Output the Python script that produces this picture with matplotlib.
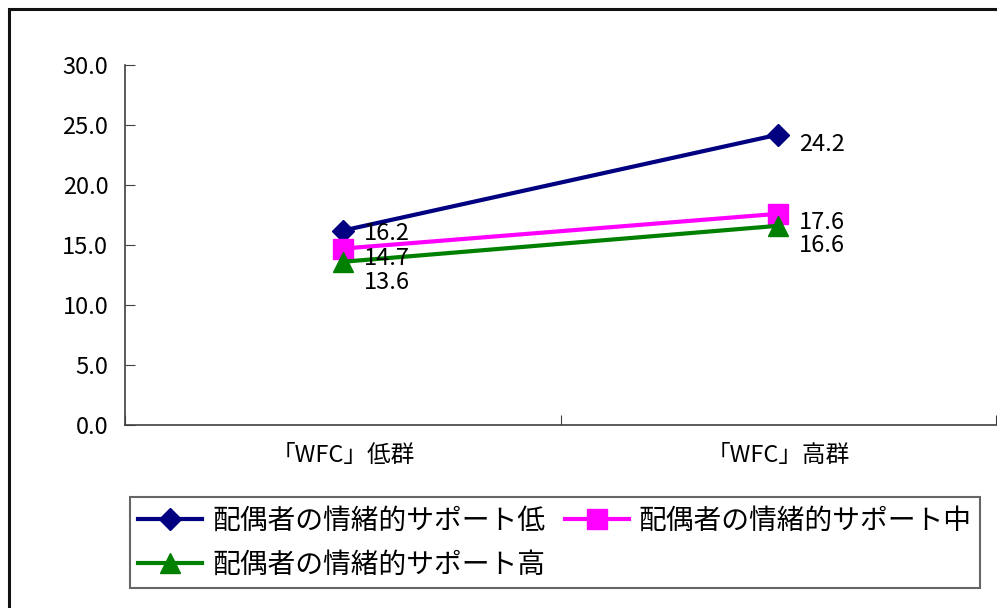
import matplotlib
matplotlib.use("Agg")
import matplotlib.pyplot as plt
from matplotlib.patches import Rectangle

plt.rcParams['font.family'] = ['Noto Sans CJK JP', 'DejaVu Sans']

categories = ["「WFC」低群", "「WFC」高群"]
series_names = ["配偶者の情緒的サポート低", "配偶者の情緒的サポート中", "配偶者の情緒的サポート高"]
support_low = [16.2, 24.2]
support_mid = [14.7, 17.6]
support_high = [13.6, 16.6]

values = [support_low, support_mid, support_high]
colors = ["#000080", "#FF00FF", "#008000"]
markers = ["D", "s", "^"]
msizes = [11, 14, 15]
# label offsets (points), tuned to keep labels apart
label_dy = [[-2, -7], [-7, -6], [-15, -14]]

fig = plt.figure(figsize=(9.97, 6.08), dpi=100)
ax = fig.add_axes([125 / 997, 1 - 425 / 608, 871 / 997, 360 / 608])

x = range(len(categories))
handles = []
for vals, name, c, m, ms, dys in zip(values, series_names, colors, markers, msizes, label_dy):
    h, = ax.plot(x, vals, color=c, lw=3, marker=m, markersize=ms,
                 markeredgecolor=c, label=name)
    handles.append(h)
    for xi, v, dy in zip(x, vals, dys):
        ax.annotate(f"{v:.1f}", (xi, v), xytext=(15, dy), textcoords="offset points",
                    ha="left", va="center", fontsize=17)

ax.set_xlim(-0.5, 1.5)
ax.set_ylim(0, 30)
ax.set_yticks([0, 5, 10, 15, 20, 25, 30])
ax.set_yticklabels([f"{t:.1f}" for t in [0, 5, 10, 15, 20, 25, 30]], fontsize=17)
ax.set_xticks([-0.5, 0.5, 1.5])
ax.set_xticklabels([])
ax.set_xticks(list(x), minor=True)
ax.set_xticklabels(categories, minor=True, fontsize=17)
ax.tick_params(axis="x", which="minor", length=0, pad=14)
ax.tick_params(axis="both", which="major", direction="in", length=7, color="#404040")
ax.tick_params(axis="y", pad=12)
for s in ["top", "right"]:
    ax.spines[s].set_visible(False)
for s in ["left", "bottom"]:
    ax.spines[s].set_color("#404040")
    ax.spines[s].set_linewidth(1.2)

leg = fig.legend([handles[0], handles[2], handles[1]],
                 [series_names[0], series_names[2], series_names[1]],
                 ncol=2, loc="center left",
                 bbox_to_anchor=(130 / 997, 1 - 588 / 608, 850 / 997, 91 / 608),
                 mode="expand", fontsize=20, frameon=True, fancybox=False,
                 edgecolor="#404040", handlelength=2.3, handletextpad=0.35,
                 borderaxespad=0, labelspacing=0.5, borderpad=0.3, columnspacing=1.0)
leg.get_frame().set_linewidth(1.5)

fig.patches.append(Rectangle((9 / 997, -0.05), 1.1, 1 - 9 / 608 + 0.05,
                             transform=fig.transFigure, fill=False,
                             edgecolor="#111111", linewidth=2.2))

fig.savefig("out.png", dpi=100)
